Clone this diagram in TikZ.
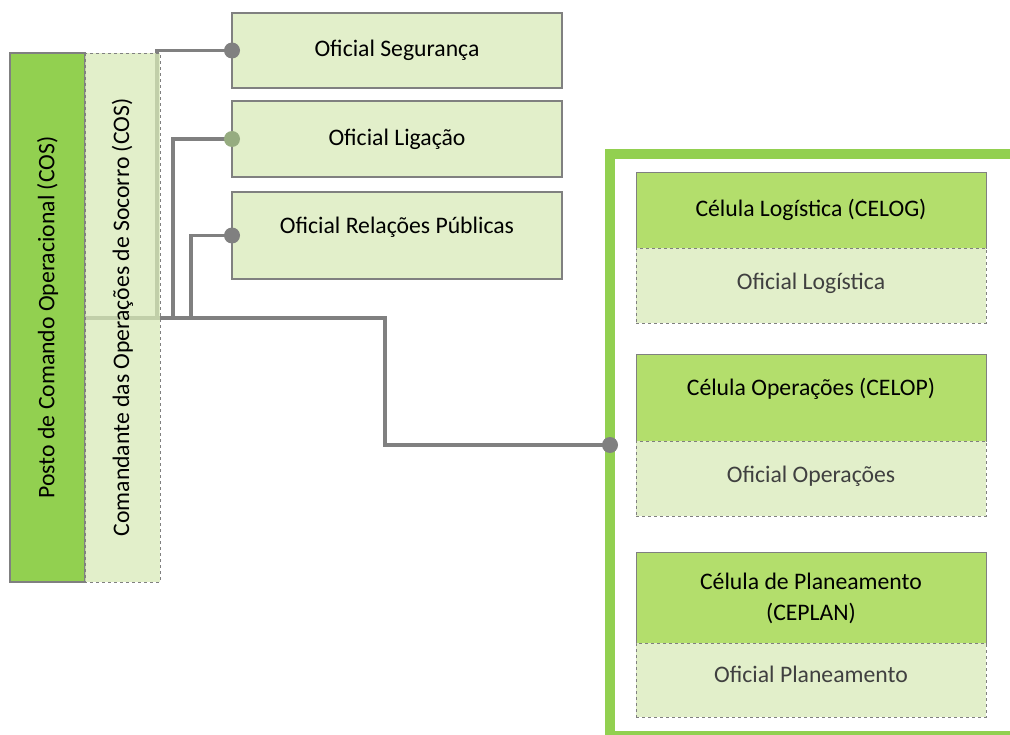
\documentclass[tikz,border=0pt]{standalone}
\usepackage{fontspec}
\setmainfont{Carlito}
\usepackage{tikz}

\definecolor{postogreen}{RGB}{146,208,80}
\definecolor{headgreen}{RGB}{179,222,108}
\definecolor{lightgreen}{RGB}{226,239,202}
\definecolor{cmdgreen}{RGB}{216,234,184}
\definecolor{linegray}{RGB}{128,128,128}
\definecolor{knobgreen}{RGB}{150,172,128}
\definecolor{softtext}{RGB}{64,64,64}

\begin{document}
\begin{tikzpicture}[x=1pt, y=-1pt,
    every node/.style={font=\fontsize{23.7}{31}\selectfont, inner sep=0pt, outer sep=0pt},
    offbox/.style={draw=linegray, line width=2.5pt, fill=lightgreen,
      minimum width=330, minimum height=75, anchor=north west},
    headbox/.style={draw=linegray, line width=0.8pt, fill=headgreen,
      minimum width=350, anchor=north west, align=center},
    bodybox/.style={draw=linegray, dashed, line width=0.8pt, fill=lightgreen,
      minimum width=350, minimum height=75, anchor=north west, text=softtext},
    conn/.style={draw=linegray, line width=3.5pt},
    knob/.style={fill=linegray}]
    \useasboundingbox (0,0) rectangle (1010,735);
    \clip (0,0) rectangle (1010,735);
    % left column
    \node [draw=linegray, line width=1.5pt, fill=postogreen, rotate=90,
      minimum width=529, minimum height=75] (posto) at (47.5,317.5)
      {Posto de Comando Operacional (COS)};
    % officers
    \node [offbox] (seg) at (232,13) {Oficial Segurança};
    \node [offbox, minimum height=76] (lig) at (232,101) {Oficial Ligação};
    \node [offbox, minimum height=87, text depth=21pt] (rel) at (232,192) {Oficial Relações Públicas};
    % cells frame
    \node [draw=postogreen, line width=10pt, minimum width=410, minimum height=582,
      anchor=north west] (frame) at (610,154) {};
    % CELOG
    \node [headbox, minimum height=76] (celog) at (636,172) {Célula Logística (CELOG)};
    \node [bodybox, text depth=9pt] (oflog) at (celog.south west) {Oficial Logística};
    % CELOP
    \node [headbox, minimum height=87, text depth=22pt] (celop) at (636,354) {Célula Operações (CELOP)};
    \node [bodybox, text depth=9pt] (ofop) at (celop.south west) {Oficial Operações};
    % CEPLAN
    \node [headbox, minimum height=91, text depth=2pt] (ceplan) at (636,552) {Célula de Planeamento\\(CEPLAN)};
    \node [bodybox, minimum height=74, text depth=11pt] (ofplan) at (ceplan.south west) {Oficial Planeamento};
    % connectors
    \coordinate (bus) at (85,318);
    \coordinate (b1) at (157,318);
    \coordinate (b2) at (173,318);
    \coordinate (b3) at (191,318);
    \draw [conn] (bus) -- ++(300,0) |- (frame.west);
    \draw [conn] (b1) |- (seg.west);
    \draw [conn] (b2) |- (lig.west);
    \draw [conn] (b3) |- (rel.west);
    \node [draw=linegray, dashed, line width=0.8pt, fill=cmdgreen, fill opacity=0.75,
      text opacity=1, rotate=90, minimum width=529, minimum height=75] (cmd) at (122.5,317.5)
      {Comandante das Operações de Socorro (COS)};
    \fill [knob] (seg.west) circle (8pt);
    \fill [knob, fill=knobgreen] (lig.west) circle (8pt);
    \fill [knob] (rel.west) circle (8pt);
    \fill [knob] (frame.west) circle (8pt);
\end{tikzpicture}
\end{document}
